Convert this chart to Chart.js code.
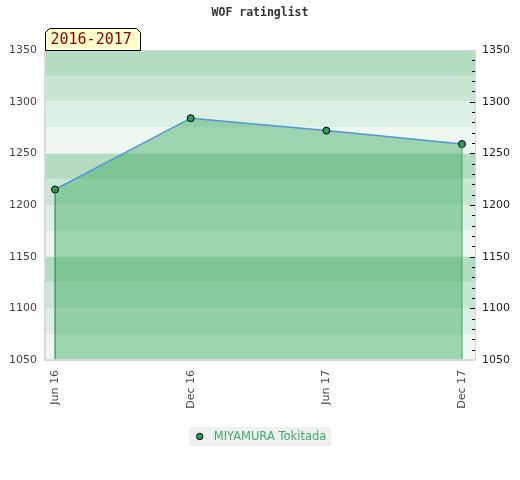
<!DOCTYPE html>
<html>
<head>
<meta charset="utf-8">
<script src="https://cdn.jsdelivr.net/npm/chart.js@4.4.1/dist/chart.umd.min.js"></script>
<style>
html,body{margin:0;padding:0;background:#fff;}
#wrap{width:520px;height:480px;position:relative;}
</style>
</head>
<body>
<div id="wrap"><canvas id="c" width="520" height="480"></canvas></div>
<script>
const categories = ["Jun 16", "Dec 16", "Jun 17", "Dec 17"];
const ratings = [1215, 1284, 1272, 1259];
const playerName = "MIYAMURA Tokitada";
const chartTitle = "WOF ratinglist";
const periodLabel = "2016-2017";
const yMin = 1050, yMax = 1350, yStep = 50;

const bandColors = ["#b3dcc1", "#c9e6d3", "#dcefe3", "#eff7f1"];

const points = ratings.map((v, i) => ({x: i, y: v}));
const leftEdge = [{x: 0, y: yMin}, {x: 0, y: ratings[0]}];
const rightEdge = [{x: ratings.length - 1, y: yMin}, {x: ratings.length - 1, y: ratings[ratings.length - 1]}];

const decor = {
  id: 'decor',
  beforeDraw(chart) {
    const {ctx, chartArea: a, scales} = chart;
    const y = scales.y;
    ctx.save();
    let k = 0;
    for (let v = yMax; v > yMin; v -= 25, k++) {
      const t = y.getPixelForValue(v), b = y.getPixelForValue(v - 25);
      ctx.fillStyle = bandColors[k % 4];
      ctx.fillRect(a.left, t, a.right - a.left, b - t);
    }
    ctx.restore();
  },
  afterDraw(chart) {
    const {ctx, chartArea: a, scales} = chart;
    const y = scales.y;
    ctx.save();
    ctx.strokeStyle = '#d8d8d8';
    ctx.lineWidth = 2;
    ctx.beginPath();
    ctx.moveTo(a.left, a.top);
    ctx.lineTo(a.left, a.bottom);
    ctx.lineTo(a.right, a.bottom);
    ctx.stroke();
    ctx.lineWidth = 1;
    ctx.beginPath();
    ctx.moveTo(a.left, a.top + 0.5);
    ctx.lineTo(a.right, a.top + 0.5);
    ctx.moveTo(a.right + 0.5, a.top);
    ctx.lineTo(a.right + 0.5, a.bottom);
    ctx.stroke();
    ctx.strokeStyle = '#000';
    ctx.lineWidth = 1;
    for (let v = yMin + 10; v < yMax; v += 10) {
      const p = Math.round(y.getPixelForValue(v)) + 0.5;
      const major = v % 50 === 0;
      ctx.beginPath();
      ctx.moveTo(a.right - (major ? 5 : 3), p);
      ctx.lineTo(a.right, p);
      ctx.stroke();
    }
    ctx.fillStyle = '#333';
    ctx.font = 'bold 11.5px "DejaVu Sans Mono"';
    ctx.textAlign = 'center';
    ctx.textBaseline = 'middle';
    ctx.fillText(chartTitle, 260, 13);
    const bx = a.left + 0.5, by = 28.5, bw = 95, bh = a.top - 28, c = 4;
    ctx.beginPath();
    ctx.moveTo(bx, by + bh);
    ctx.lineTo(bx, by + c);
    ctx.lineTo(bx + c, by);
    ctx.lineTo(bx + bw - c, by);
    ctx.lineTo(bx + bw, by + c);
    ctx.lineTo(bx + bw, by + bh);
    ctx.closePath();
    ctx.fillStyle = '#ffffcc';
    ctx.fill();
    ctx.strokeStyle = '#000';
    ctx.lineWidth = 1;
    ctx.stroke();
    ctx.fillStyle = '#8b0000';
    ctx.font = '15px "DejaVu Sans Mono"';
    ctx.textAlign = 'left';
    ctx.textBaseline = 'middle';
    ctx.fillText(periodLabel, bx + 5, by + 12);
    ctx.font = '11.5px "DejaVu Sans"';
    const tw = ctx.measureText(playerName).width;
    const lw = tw + 30, lx = 260 - lw / 2, ly = 427, lh = 19;
    ctx.fillStyle = '#f0f0f0';
    ctx.fillRect(lx, ly, lw, lh);
    ctx.beginPath();
    ctx.arc(lx + 11, ly + lh / 2, 3.2, 0, Math.PI * 2);
    ctx.fillStyle = '#2e9e5b';
    ctx.fill();
    ctx.strokeStyle = '#000';
    ctx.stroke();
    ctx.fillStyle = '#3cae64';
    ctx.textBaseline = 'middle';
    ctx.fillText(playerName, lx + 25, ly + lh / 2 + 0.5);
    ctx.restore();
  }
};

new Chart(document.getElementById('c'), {
  type: 'line',
  data: {
    datasets: [
      {
        label: playerName,
        data: points,
        borderColor: '#4f97d8',
        borderWidth: 1.5,
        backgroundColor: 'rgba(63,172,100,0.47)',
        fill: 'start',
        tension: 0,
        pointRadius: 3.5,
        pointBackgroundColor: '#2e9e5b',
        pointBorderColor: '#000',
        pointBorderWidth: 1,
        order: 1
      },
      {
        label: 'l', data: leftEdge, borderColor: '#237a42', borderWidth: 1,
        pointRadius: 0, fill: false, order: 0
      },
      {
        label: 'r', data: rightEdge, borderColor: '#2fb45e', borderWidth: 1,
        pointRadius: 0, fill: false, order: 0
      }
    ]
  },
  options: {
    responsive: false,
    animation: false,
    layout: {padding: {top: 50, bottom: 60, left: 0, right: 0}},
    plugins: {legend: {display: false}, title: {display: false}, tooltip: {enabled: false}},
    scales: {
      x: {
        type: 'linear',
        min: -0.074, max: ratings.length - 1 + 0.096,
        afterBuildTicks(s) { s.ticks = categories.map((_, i) => ({value: i})); },
        afterFit(s) { s.height = 60; },
        border: {display: false},
        grid: {display: false, drawTicks: false},
        ticks: {
          callback: (v) => categories[v] ?? '',
          maxRotation: 90, minRotation: 90, padding: 10, autoSkip: false,
          color: '#444', font: {family: 'DejaVu Sans', size: 11}
        }
      },
      y: {
        position: 'left', min: yMin, max: yMax,
        afterFit(s) { s.width = 45; },
        border: {display: false},
        grid: {color: 'rgba(235,235,235,0.7)', drawTicks: false},
        ticks: {stepSize: yStep, padding: 8, color: '#444', font: {family: 'DejaVu Sans', size: 11},
          callback: (v) => String(v)}
      },
      y2: {
        position: 'right', min: yMin, max: yMax,
        afterFit(s) { s.width = 45; },
        border: {display: false},
        grid: {display: false, drawTicks: false},
        ticks: {stepSize: yStep, padding: 7, color: '#222', font: {family: 'DejaVu Sans', size: 11},
          callback: (v) => String(v)}
      }
    }
  },
  plugins: [decor]
});
</script>
</body>
</html>
